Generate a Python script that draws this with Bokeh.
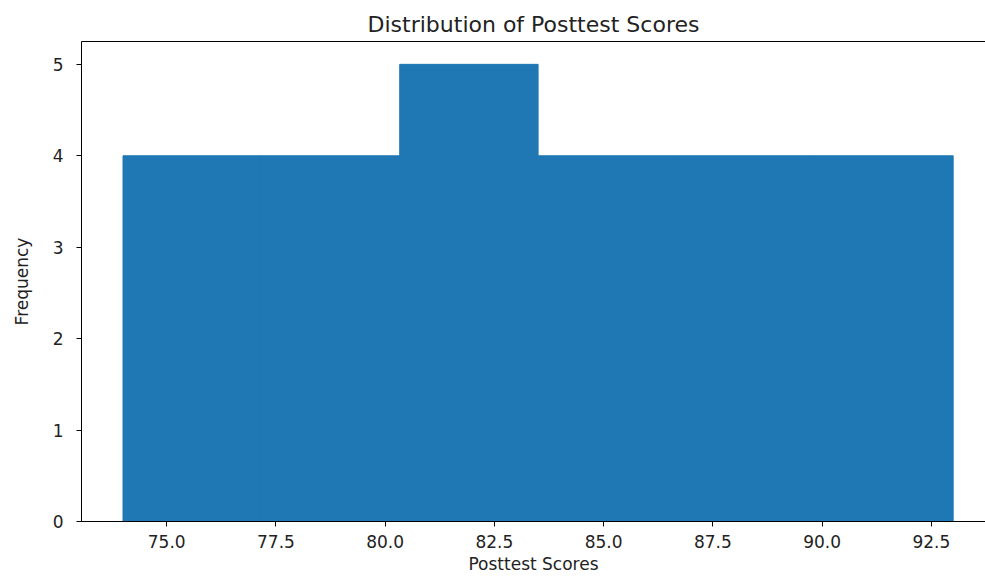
import numpy as np
from bokeh.plotting import figure
from bokeh.models import FixedTicker, NumeralTickFormatter, LinearAxis, Range1d
from bokeh.embed import file_html
from bokeh.resources import INLINE

# Data
score_min = 74.0
score_max = 93.0
bin_counts = [4, 4, 5, 4, 4, 4]
x_ticks = [75.0, 77.5, 80.0, 82.5, 85.0, 87.5, 90.0, 92.5]
y_ticks = [0, 1, 2, 3, 4, 5]

edges = np.linspace(score_min, score_max, len(bin_counts) + 1)
left = edges[:-1]
right = edges[1:]

p = figure(width=985, height=576, output_backend="svg", toolbar_location=None,
           x_range=Range1d(73.05, 93.74), y_range=Range1d(0, 5.25),
           title="Distribution of Posttest Scores",
           min_border_left=81, min_border_right=0, min_border_top=41, min_border_bottom=0)

p.quad(left=left, right=right, bottom=0, top=bin_counts, fill_color="#1f77b4",
       line_color="#1f77b4", line_width=1)

font = "DejaVu Sans"
p.title.align = "center"
p.title.text_font = font
p.title.text_font_size = "22px"
p.title.text_font_style = "normal"
p.title.text_color = "#222222"

p.xgrid.visible = False
p.ygrid.visible = False
p.outline_line_color = None
p.background_fill_color = "white"
p.border_fill_color = "white"

for ax in [p.xaxis[0], p.yaxis[0]]:
    ax.major_label_text_font = font
    ax.major_label_text_font_size = "17px"
    ax.major_label_text_color = "#222222"
    ax.axis_label_text_font = font
    ax.axis_label_text_font_size = "17px"
    ax.axis_label_text_font_style = "normal"
    ax.axis_label_text_color = "#222222"
    ax.axis_line_color = "black"
    ax.major_tick_line_color = "black"
    ax.major_tick_out = 5
    ax.major_tick_in = 0
    ax.minor_tick_line_color = None

p.xaxis[0].ticker = FixedTicker(ticks=x_ticks)
p.xaxis[0].formatter = NumeralTickFormatter(format="0.0")
p.xaxis[0].axis_label = "Posttest Scores"
p.xaxis[0].major_label_standoff = 8
p.xaxis[0].axis_label_standoff = 3

p.yaxis[0].ticker = FixedTicker(ticks=y_ticks)
p.yaxis[0].axis_label = "Frequency"
p.yaxis[0].major_label_standoff = 13
p.yaxis[0].axis_label_standoff = 18

top_axis = LinearAxis(ticker=FixedTicker(ticks=[]), major_label_text_font_size="0px",
                      axis_line_color="black", major_tick_line_color=None,
                      minor_tick_line_color=None)
p.add_layout(top_axis, "above")

open("out.html", "w").write(file_html(p, INLINE))
